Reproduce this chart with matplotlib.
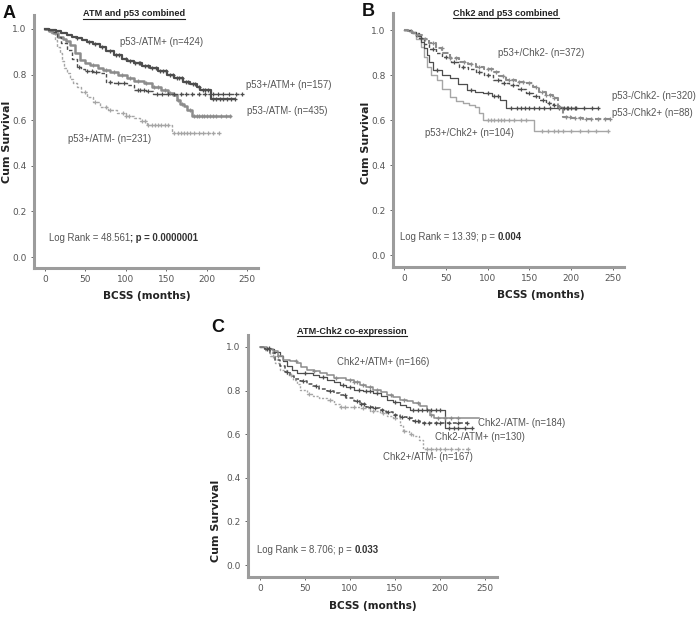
import numpy as np
import matplotlib
matplotlib.use("Agg")
import matplotlib.pyplot as plt
from matplotlib.lines import Line2D
from matplotlib import font_manager

W, H = 698, 617
fig = plt.figure(figsize=(W / 100, H / 100), dpi=100)
fig.patch.set_facecolor("white")

DARK = "#4d4d4d"
MID = "#8c8c8c"
LIGHT = "#a6a6a6"
TXT = "#555555"

_names = {f.name for f in font_manager.fontManager.ttflist}
NARROW = "Liberation Sans Narrow" if "Liberation Sans Narrow" in _names else "DejaVu Sans"

# ---------------- data ----------------
# Panel A: ATM and p53 combined
A_names = ["p53-/ATM+ (n=424)", "p53+/ATM+ (n=157)", "p53-/ATM- (n=435)", "p53+/ATM- (n=231)"]
A1_t = [0, 5, 14, 20, 27, 34, 40, 46, 52, 60, 68, 76, 85, 95, 102, 110, 120, 130, 140, 151, 160, 171, 180, 188, 192, 205, 235]
A1_s = [1.0, 0.995, 0.989, 0.982, 0.974, 0.966, 0.96, 0.952, 0.944, 0.935, 0.922, 0.905, 0.886, 0.868, 0.858, 0.849, 0.838, 0.827, 0.815, 0.798, 0.785, 0.769, 0.76, 0.747, 0.732, 0.693, 0.693]
A1_c = [40, 55, 62, 70, 80, 88, 92, 100, 105, 112, 116, 118, 124, 128, 133, 137, 142, 146, 150, 155, 158, 163, 166, 170, 174, 177, 183, 186, 190, 195, 198, 202, 208, 212, 216, 220, 225, 230, 235]
A2_t = [0, 5, 10, 15, 20, 27, 33, 39, 45, 50, 60, 68, 76, 85, 101, 110, 125, 134, 244]
A2_s = [1.0, 0.995, 0.988, 0.965, 0.94, 0.908, 0.87, 0.835, 0.825, 0.817, 0.81, 0.805, 0.769, 0.765, 0.754, 0.732, 0.728, 0.713, 0.713]
A2_c = [42, 52, 58, 63, 80, 90, 98, 115, 118, 122, 128, 138, 145, 152, 160, 168, 175, 182, 190, 198, 208, 214, 220, 228, 236, 244]
A3_t = [0, 5, 10, 16, 22, 26, 31, 37, 43, 50, 56, 65, 72, 80, 90, 101, 110, 122, 132, 143, 152, 159, 163, 167, 172, 176, 182, 229]
A3_s = [1.0, 0.99, 0.98, 0.966, 0.955, 0.945, 0.93, 0.895, 0.864, 0.852, 0.842, 0.83, 0.82, 0.813, 0.8, 0.783, 0.772, 0.761, 0.747, 0.732, 0.72, 0.71, 0.69, 0.673, 0.66, 0.644, 0.618, 0.618]
A3_c = [60, 75, 85, 95, 105, 115, 125, 135, 140, 148, 155, 165, 170, 180, 185, 188, 191, 194, 197, 200, 204, 208, 212, 218, 224, 229]
A4_t = [0, 4, 8, 12, 15, 18, 21, 24, 27, 31, 35, 39, 45, 52, 60, 68, 78, 89, 100, 110, 118, 126, 157, 215]
A4_s = [1.0, 0.99, 0.98, 0.95, 0.92, 0.893, 0.86, 0.83, 0.805, 0.78, 0.765, 0.747, 0.725, 0.703, 0.68, 0.659, 0.645, 0.63, 0.62, 0.608, 0.595, 0.578, 0.545, 0.545]
A4_c = [50, 62, 75, 80, 96, 100, 104, 120, 124, 128, 132, 136, 140, 144, 148, 152, 160, 164, 168, 172, 176, 180, 185, 190, 196, 202, 208, 215]

# Panel B: Chk2 and p53 combined
B_names = ["p53+/Chk2- (n=372)", "p53-/Chk2- (n=320)", "p53-/Chk2+ (n=88)", "p53+/Chk2+ (n=104)"]
B1_t = [0, 5, 10, 15, 22, 30, 38, 46, 55, 66, 76, 86, 96, 106, 114, 122, 134, 146, 154, 162, 170, 178, 184, 190, 200, 214, 246]
B1_s = [1.0, 0.995, 0.988, 0.978, 0.96, 0.941, 0.92, 0.896, 0.878, 0.859, 0.848, 0.837, 0.826, 0.815, 0.795, 0.778, 0.77, 0.763, 0.745, 0.726, 0.71, 0.696, 0.659, 0.615, 0.61, 0.607, 0.607]
B1_c = [8, 15, 25, 35, 45, 55, 62, 72, 80, 90, 100, 104, 110, 118, 126, 130, 138, 142, 150, 158, 165, 170, 175, 180, 186, 194, 198, 204, 210, 218, 224, 232, 240, 246]
B2_t = [0, 5, 10, 18, 24, 30, 38, 46, 56, 66, 76, 86, 96, 106, 116, 126, 136, 146, 154, 162, 170, 178, 184, 190, 206]
B2_s = [1.0, 0.995, 0.985, 0.963, 0.94, 0.918, 0.9, 0.881, 0.86, 0.837, 0.826, 0.815, 0.8, 0.778, 0.767, 0.756, 0.74, 0.719, 0.705, 0.689, 0.678, 0.667, 0.66, 0.652, 0.652]
B2_c = [20, 35, 50, 60, 70, 90, 100, 112, 120, 130, 140, 150, 158, 166, 174, 180, 186, 192, 196, 200, 206]
B3_t = [0, 8, 14, 20, 24, 27, 30, 35, 45, 55, 65, 75, 85, 95, 105, 115, 122, 232]
B3_s = [1.0, 0.99, 0.975, 0.948, 0.92, 0.889, 0.86, 0.822, 0.8, 0.785, 0.76, 0.733, 0.725, 0.719, 0.705, 0.689, 0.652, 0.652]
B3_c = [40, 80, 100, 108, 112, 128, 135, 140, 145, 150, 155, 162, 168, 175, 185, 195, 205, 215, 225, 232]
B4_t = [0, 8, 14, 20, 24, 27, 32, 39, 46, 55, 62, 70, 78, 85, 90, 95, 156, 244]
B4_s = [1.0, 0.99, 0.96, 0.926, 0.88, 0.837, 0.8, 0.778, 0.74, 0.704, 0.685, 0.674, 0.667, 0.659, 0.63, 0.6, 0.551, 0.551]
B4_c = [100, 104, 108, 112, 116, 120, 126, 132, 140, 146, 165, 172, 180, 184, 190, 200, 210, 220, 230, 244]

# Panel C: ATM-Chk2 co-expression
C_names = ["Chk2+/ATM+ (n=166)", "Chk2-/ATM- (n=184)", "Chk2-/ATM+ (n=130)", "Chk2+/ATM- (n=167)"]
C1_t = [0, 8, 15, 20, 26, 33, 41, 46, 52, 60, 67, 74, 82, 96, 104, 111, 118, 126, 134, 141, 148, 156, 163, 170, 178, 185, 189, 193, 243]
C1_s = [1.0, 0.99, 0.98, 0.96, 0.942, 0.935, 0.926, 0.91, 0.896, 0.888, 0.881, 0.87, 0.858, 0.85, 0.838, 0.827, 0.815, 0.804, 0.792, 0.781, 0.77, 0.758, 0.75, 0.743, 0.728, 0.712, 0.69, 0.674, 0.674]
C1_c = [20, 40, 60, 85, 100, 104, 108, 115, 122, 130, 145, 160, 175, 190, 198, 205, 212, 220]
C2_t = [0, 5, 11, 16, 22, 26, 30, 36, 41, 59, 66, 74, 82, 89, 96, 104, 115, 126, 134, 141, 148, 156, 162, 167, 206, 235]
C2_s = [1.0, 0.995, 0.989, 0.975, 0.957, 0.935, 0.911, 0.895, 0.881, 0.873, 0.862, 0.85, 0.838, 0.827, 0.815, 0.804, 0.796, 0.789, 0.773, 0.758, 0.746, 0.735, 0.724, 0.712, 0.628, 0.628]
C2_c = [10, 50, 70, 92, 100, 110, 118, 122, 130, 150, 170, 175, 180, 185, 190, 195, 200, 210, 215, 220, 228, 235]
C3_t = [0, 5, 11, 17, 22, 28, 33, 38, 44, 52, 59, 66, 74, 82, 89, 96, 104, 111, 118, 126, 133, 140, 148, 156, 163, 170, 178, 230]
C3_s = [1.0, 0.99, 0.972, 0.94, 0.911, 0.885, 0.865, 0.852, 0.842, 0.83, 0.819, 0.807, 0.796, 0.789, 0.781, 0.765, 0.75, 0.738, 0.727, 0.72, 0.712, 0.7, 0.689, 0.68, 0.674, 0.662, 0.651, 0.651]
C3_c = [8, 30, 48, 62, 78, 95, 108, 112, 116, 122, 128, 135, 142, 150, 158, 165, 172, 176, 182, 188, 195, 200, 210, 220, 230]
C4_t = [0, 5, 11, 17, 22, 30, 37, 41, 44, 52, 59, 66, 74, 82, 89, 100, 111, 122, 133, 141, 148, 155, 159, 165, 170, 177, 181, 231]
C4_s = [1.0, 0.985, 0.957, 0.925, 0.896, 0.87, 0.85, 0.83, 0.804, 0.785, 0.773, 0.765, 0.758, 0.74, 0.727, 0.724, 0.72, 0.708, 0.697, 0.685, 0.674, 0.643, 0.613, 0.6, 0.59, 0.574, 0.53, 0.53]
C4_c = [15, 35, 55, 78, 90, 95, 105, 115, 125, 137, 150, 160, 168, 185, 190, 195, 200, 205, 212, 220, 231]

x_ticks = [0, 50, 100, 150, 200, 250]
y_ticks = [0.0, 0.2, 0.4, 0.6, 0.8, 1.0]


def px_axes(left, right, top, bottom):
    return fig.add_axes([left / W, 1 - bottom / H, (right - left) / W, (bottom - top) / H])


def surv_at(t, s, c):
    t = np.asarray(t)
    s = np.asarray(s)
    idx = np.searchsorted(t, np.asarray(c), side="right") - 1
    return s[np.clip(idx, 0, len(s) - 1)]


def km(ax, t, s, c, color, ls="-", lw=1.0, ms=3.5):
    ax.step(t, s, where="post", color=color, lw=lw, ls=ls, zorder=3)
    ax.plot(c, surv_at(t, s, c), ls="none", marker="+", ms=ms, mew=0.9, color=color, zorder=4)


def style(ax, xlim, ylim):
    ax.set_xlim(*xlim)
    ax.set_ylim(*ylim)
    for sp in ["top", "right"]:
        ax.spines[sp].set_visible(False)
    for sp in ["left", "bottom"]:
        ax.spines[sp].set_color("#9c9c9c")
        ax.spines[sp].set_linewidth(2.2)
    ax.set_xticks(x_ticks)
    ax.set_yticks(y_ticks)
    ax.set_xticklabels([str(v) for v in x_ticks])
    ax.set_yticklabels(["%.1f" % v for v in y_ticks])
    ax.tick_params(axis="both", length=2.2, width=0.7, color="#666666", labelsize=7.5,
                   labelcolor="#555555", pad=3)
    for lab in ax.get_xticklabels() + ax.get_yticklabels():
        lab.set_family(NARROW)
        if NARROW == "DejaVu Sans":
            lab.set_fontsize(6.5)
    ax.patch.set_alpha(0)


def ftxt(x, y, s, **kw):
    d = dict(fontsize=6.9, color=TXT, family="Liberation Sans", va="center", ha="left")
    d.update(kw)
    return fig.text(x / W, 1 - y / H, s, **d)


def logrank(x, y, normal, bold):
    t1 = ftxt(x, y, normal)
    return fig.axes[-1].annotate(bold, xy=(1, 0), xycoords=t1, va="bottom", ha="left",
                                 fontsize=6.9, color="#333333", family="Liberation Sans",
                                 fontweight="bold", annotation_clip=False)


def axis_labels(xc, xy, yx, yc):
    ftxt(xc, xy, "BCSS (months)", fontsize=7.6, fontweight="semibold", color="#222222",
         family="DejaVu Sans", ha="center")
    ftxt(yx, yc, "Cum Survival", fontsize=8.0, fontweight="bold", color="#222222",
         family="DejaVu Sans", ha="center", rotation=90)


titles = []

# ---------------- Panel A ----------------
axA = px_axes(34, 258, 15, 268)
style(axA, (-13.6, 263.6), (-0.048, 1.061))
km(axA, A4_t, A4_s, A4_c, LIGHT, ls=(0, (2, 1.2)), lw=1.0)
km(axA, A3_t, A3_s, A3_c, MID, lw=1.8)
km(axA, A2_t, A2_s, A2_c, DARK, ls=(0, (2.5, 1.5)), lw=1.0)
km(axA, A1_t, A1_s, A1_c, DARK, lw=1.6)
axis_labels(147, 296, 7, 142)
ftxt(120, 42, A_names[0])
ftxt(246, 85, A_names[1])
ftxt(247, 111, A_names[2])
ftxt(68, 139, A_names[3])
logrank(49, 238, "Log Rank = 48.561", "; p = 0.0000001")
titles.append(ftxt(134, 14, "ATM and p53 combined", fontweight="bold", fontsize=6.6, color="#222222", ha="center"))
ftxt(3, 13, "A", fontweight="bold", fontsize=13, color="#111111")

# ---------------- Panel B ----------------
axB = px_axes(393, 624, 13, 267)
style(axB, (-13.2, 263.2), (-0.053, 1.076))
km(axB, B4_t, B4_s, B4_c, LIGHT, lw=1.0)
km(axB, B3_t, B3_s, B3_c, DARK, lw=0.9)
km(axB, B2_t, B2_s, B2_c, DARK, ls=(0, (2.5, 1.5)), lw=1.0)
km(axB, B1_t, B1_s, B1_c, MID, ls=(0, (3, 1.2)), lw=1.5)
axis_labels(541, 295, 366, 143)
ftxt(498, 53, B_names[0])
ftxt(612, 96, B_names[1])
ftxt(612, 113, B_names[2])
ftxt(425, 133, B_names[3])
logrank(400, 237, "Log Rank = 13.39; p = ", "0.004")
titles.append(ftxt(506, 13, "Chk2 and p53 combined", fontweight="bold", fontsize=6.6, color="#222222", ha="center"))
ftxt(362, 12, "B", fontweight="bold", fontsize=13, color="#111111")

# ---------------- Panel C ----------------
axC = px_axes(248, 497, 335, 577)
style(axC, (-13.3, 263.3), (-0.055, 1.055))
km(axC, C4_t, C4_s, C4_c, LIGHT, ls=(0, (1.5, 1.2)), lw=1.0)
km(axC, C3_t, C3_s, C3_c, DARK, ls=(0, (2.5, 1.5)), lw=1.1)
km(axC, C2_t, C2_s, C2_c, DARK, lw=0.9)
km(axC, C1_t, C1_s, C1_c, MID, lw=1.1)
axis_labels(373, 606, 216, 521)
ftxt(337, 362, C_names[0])
ftxt(478, 423, C_names[1])
ftxt(435, 437, C_names[2])
ftxt(383, 457, C_names[3])
logrank(257, 550, "Log Rank = 8.706; p = ", "0.033")
titles.append(ftxt(352, 331, "ATM-Chk2 co-expression", fontweight="bold", fontsize=6.6, color="#222222", ha="center"))
ftxt(211, 327, "C", fontweight="bold", fontsize=13, color="#111111")

# underline titles
fig.canvas.draw()
r = fig.canvas.get_renderer()
for t in titles:
    bb = t.get_window_extent(r)
    y = (bb.y0 - 0.5) / H
    fig.add_artist(Line2D([bb.x0 / W, bb.x1 / W], [y, y], color="#222222", lw=0.8))

fig.savefig("out.png", dpi=100, facecolor="white")
